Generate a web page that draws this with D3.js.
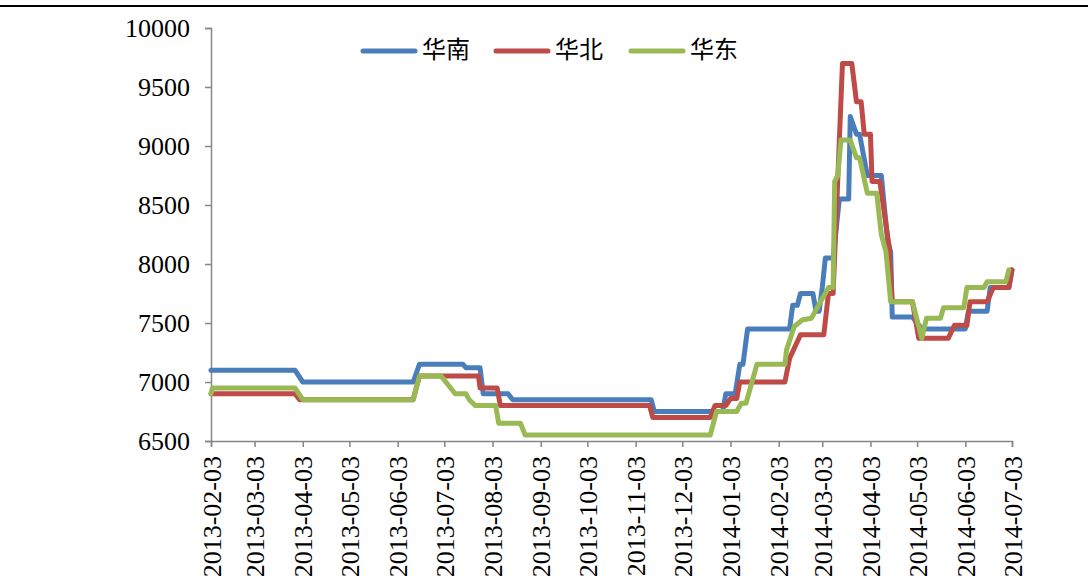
<!DOCTYPE html>
<html>
<head>
<meta charset="utf-8">
<script src="https://cdn.jsdelivr.net/npm/d3@7"></script>
<style>
  body { margin: 0; background: #fff; }
  svg { display: block; }
  .axis text { font-family: "Liberation Serif", "Times New Roman", serif; fill: #000; }
</style>
</head>
<body>
<div id="chart"></div>
<script>
// Series data: dates where the price changes and the price at that date
const southDates = ["2013-02-03","2013-03-29","2013-04-03","2013-06-13","2013-06-17","2013-07-15","2013-07-17","2013-07-26","2013-07-28","2013-08-13","2013-08-16","2013-11-13","2013-11-15","2013-12-29","2013-12-31","2014-01-06","2014-01-09","2014-01-11","2014-01-14","2014-02-10","2014-02-12","2014-02-15","2014-02-17","2014-02-25","2014-02-27","2014-03-01","2014-03-03","2014-03-05","2014-03-10","2014-03-14","2014-03-20","2014-03-21","2014-03-25","2014-03-27","2014-04-01","2014-04-10","2014-04-14","2014-04-16","2014-04-17","2014-04-30","2014-05-06","2014-06-03","2014-06-05","2014-06-17","2014-06-19","2014-07-01","2014-07-03"];
const southValues = [7100,7100,7000,7000,7150,7150,7120,7120,6900,6900,6850,6850,6750,6750,6900,6900,7150,7150,7450,7450,7650,7650,7750,7750,7600,7600,7800,8050,8050,8550,8550,9250,9100,9100,8750,8750,8200,8100,7550,7550,7450,7450,7600,7600,7800,7800,7950];

const northDates = ["2013-02-03","2013-03-29","2013-04-01","2013-06-13","2013-06-17","2013-07-25","2013-07-26","2013-08-06","2013-08-08","2013-11-12","2013-11-14","2013-12-21","2013-12-24","2013-12-31","2014-01-03","2014-01-07","2014-01-09","2014-02-07","2014-02-10","2014-02-17","2014-03-04","2014-03-07","2014-03-10","2014-03-16","2014-03-22","2014-03-25","2014-03-28","2014-03-30","2014-04-03","2014-04-04","2014-04-09","2014-04-15","2014-04-17","2014-04-30","2014-05-04","2014-05-23","2014-05-27","2014-06-04","2014-06-06","2014-06-17","2014-06-21","2014-07-01","2014-07-03"];
const northValues = [6900,6900,6850,6850,7050,7050,6950,6950,6800,6800,6700,6700,6800,6800,6860,6860,7000,7000,7200,7400,7400,7750,7750,9700,9700,9375,9375,9100,9100,8700,8700,8150,7680,7680,7370,7370,7480,7480,7680,7680,7800,7800,7950];

const eastDates = ["2013-02-03","2013-02-04","2013-03-29","2013-04-03","2013-06-13","2013-06-17","2013-07-01","2013-07-04","2013-07-10","2013-07-17","2013-07-19","2013-07-23","2013-08-05","2013-08-07","2013-08-21","2013-08-24","2013-12-21","2013-12-25","2014-01-07","2014-01-10","2014-01-13","2014-01-20","2014-02-07","2014-02-08","2014-02-13","2014-02-18","2014-02-24","2014-03-07","2014-03-10","2014-03-11","2014-03-13","2014-03-15","2014-03-21","2014-03-25","2014-03-27","2014-04-01","2014-04-07","2014-04-10","2014-04-13","2014-04-16","2014-04-30","2014-05-06","2014-05-09","2014-05-18","2014-05-20","2014-06-02","2014-06-04","2014-06-15","2014-06-17","2014-06-29","2014-07-01"];
const eastValues = [6900,6950,6950,6850,6850,7050,7050,7000,6900,6900,6850,6800,6800,6650,6650,6550,6550,6750,6750,6820,6820,7150,7150,7270,7470,7525,7540,7800,7800,8700,8750,9050,9050,8900,8900,8600,8600,8250,8100,7680,7680,7370,7540,7540,7630,7630,7800,7800,7850,7850,7950];

const seriesNames  = ["华南", "华北", "华东"];
const seriesColors = ["#4a7ebb", "#be4b48", "#98b954"];
const yTicks = [6500, 7000, 7500, 8000, 8500, 9000, 9500, 10000];
const xTickLabels = ["2013-02-03","2013-03-03","2013-04-03","2013-05-03","2013-06-03","2013-07-03","2013-08-03","2013-09-03","2013-10-03","2013-11-03","2013-12-03","2014-01-03","2014-02-03","2014-03-03","2014-04-03","2014-05-03","2014-06-03","2014-07-03"];

const width = 1088, height = 587;
const plot = { left: 211, right: 1012, top: 28, bottom: 441 };
const parseDate = d3.timeParse("%Y-%m-%d");

const svg = d3.select("#chart").append("svg")
  .attr("width", width)
  .attr("height", height);

// top rule
svg.append("line")
  .attr("x1", 0).attr("x2", width)
  .attr("y1", 6).attr("y2", 6)
  .attr("stroke", "#000").attr("stroke-width", 2);

const x = d3.scaleTime()
  .domain([parseDate("2013-02-03"), parseDate("2014-07-03")])
  .range([plot.left, plot.right]);
const y = d3.scaleLinear()
  .domain([6500, 10000])
  .range([plot.bottom, plot.top]);

// Y axis
const yAxis = svg.append("g")
  .attr("class", "axis")
  .attr("transform", `translate(${plot.left},0)`)
  .call(d3.axisLeft(y).tickValues(yTicks).tickSize(6).tickPadding(15).tickFormat(d3.format("d")))
  .attr("font-family", null);
yAxis.select(".domain").attr("stroke", "#868686").attr("stroke-width", 1.5);
yAxis.selectAll(".tick line").attr("stroke", "#868686").attr("stroke-width", 1.5);
yAxis.selectAll(".tick text")
  .attr("font-size", 26)
  .attr("dy", "0.34em");

// X axis
const xAxis = svg.append("g")
  .attr("class", "axis")
  .attr("transform", `translate(0,${plot.bottom})`)
  .call(d3.axisBottom(x).tickValues(xTickLabels.map(parseDate)).tickSize(6).tickFormat(d3.timeFormat("%Y-%m-%d")))
  .attr("font-family", null);
xAxis.select(".domain").attr("stroke", "#868686").attr("stroke-width", 1.5);
xAxis.selectAll(".tick line").attr("stroke", "#868686").attr("stroke-width", 1.5);
xAxis.selectAll(".tick text")
  .attr("font-size", 26)
  .attr("text-anchor", "end")
  .attr("dy", "0.35em")
  .attr("transform", "translate(0,6) rotate(-90)")
  .attr("x", -9).attr("y", 0);

// Lines
const seriesData = [
  d3.zip(southDates, southValues),
  d3.zip(northDates, northValues),
  d3.zip(eastDates, eastValues)
];
const line = d3.line()
  .x(d => x(parseDate(d[0])))
  .y(d => y(d[1]));

seriesData.forEach((data, i) => {
  svg.append("path")
    .datum(data)
    .attr("fill", "none")
    .attr("stroke", seriesColors[i])
    .attr("stroke-width", 5)
    .attr("stroke-linejoin", "round")
    .attr("stroke-linecap", "round")
    .attr("d", line);
});

// Legend
const legendX = [363, 496, 631];
const legend = svg.append("g");
seriesNames.forEach((name, i) => {
  legend.append("line")
    .attr("x1", legendX[i]).attr("x2", legendX[i] + 52)
    .attr("y1", 51).attr("y2", 51)
    .attr("stroke", seriesColors[i])
    .attr("stroke-width", 5)
    .attr("stroke-linecap", "round");
  legend.append("text")
    .attr("x", legendX[i] + 59)
    .attr("y", 58)
    .style("font-family", "'Noto Sans CJK SC', sans-serif")
    .style("font-size", "24px")
    .text(name);
});
</script>
</body>
</html>
